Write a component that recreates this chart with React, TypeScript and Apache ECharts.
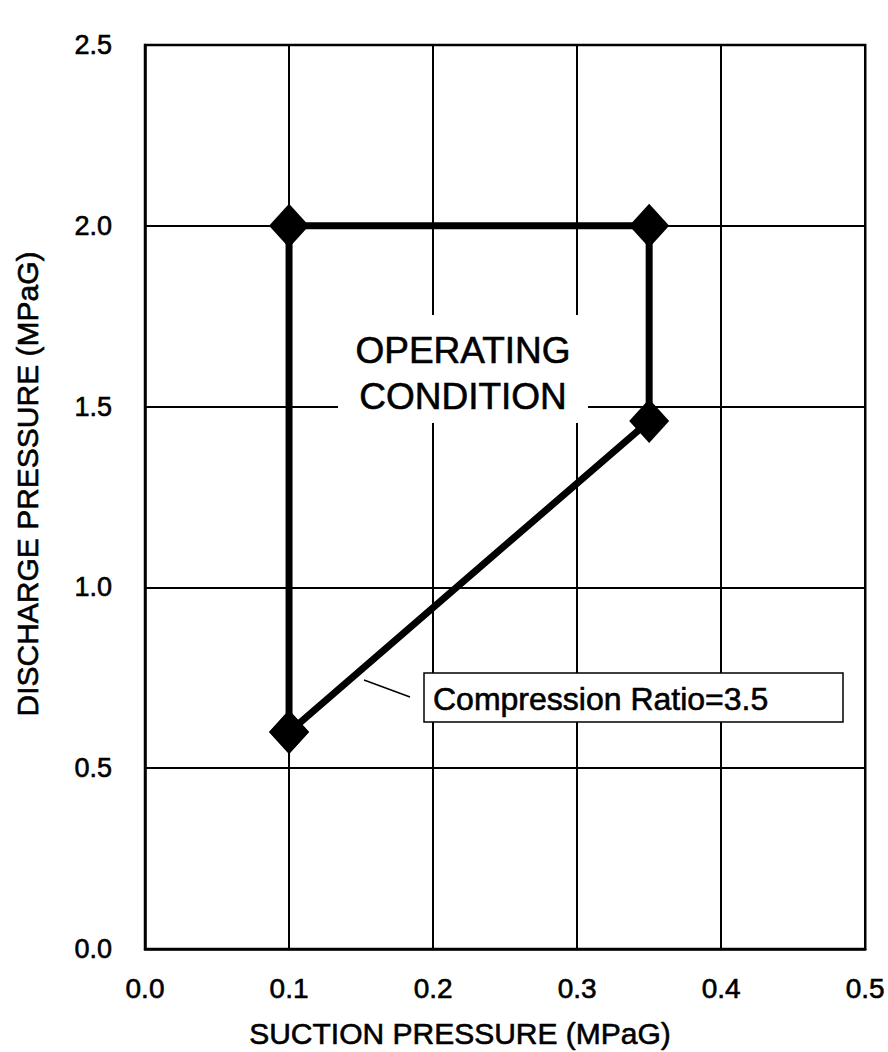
import React, { useEffect, useRef } from "react";
import * as echarts from "echarts";

const xTicks = [0, 0.1, 0.2, 0.3, 0.4, 0.5];
const yTicks = [0, 0.5, 1.0, 1.5, 2.0, 2.5];
const suctionPressure = [0.1, 0.1, 0.35, 0.35, 0.1];
const dischargePressure = [0.6, 2.0, 2.0, 1.46, 0.6];
const xTitle = "SUCTION PRESSURE (MPaG)";
const yTitle = "DISCHARGE PRESSURE (MPaG)";
const regionLabel = "OPERATING\nCONDITION";
const ratioLabel = "Compression Ratio=3.5";

const FONT = "'Liberation Sans', Arial, Helvetica, sans-serif";
const BOLDEN = { stroke: "#000", lineWidth: 0.6 };

export default function App() {
  const ref = useRef<HTMLDivElement>(null);
  useEffect(() => {
    document.body.style.margin = "0";
    const chart = echarts.init(ref.current!, null, { renderer: "svg" });
    const data = suctionPressure.map((x, i) => [x, dischargePressure[i]]);
    chart.setOption({
      animation: false,
      backgroundColor: "#ffffff",
      textStyle: { fontFamily: FONT, color: "#000" },
      grid: {
        left: 145,
        right: 22,
        top: 45,
        bottom: 103,
        show: true,
        borderColor: "#000",
        borderWidth: 2.5,
        backgroundColor: "transparent",
      },
      xAxis: {
        type: "value",
        min: xTicks[0],
        max: xTicks[xTicks.length - 1],
        interval: 0.1,
        axisLine: { show: true, lineStyle: { color: "#000", width: 2.5 } },
        axisTick: { show: false },
        splitLine: { show: true, lineStyle: { color: "#000", width: 2 } },
        axisLabel: {
          color: "#000",
          fontSize: 28,
          fontFamily: FONT,
          margin: 25,
          textBorderColor: "#000",
          textBorderWidth: 0.6,
          formatter: (v: number) => v.toFixed(1),
        },
      },
      yAxis: {
        type: "value",
        min: yTicks[0],
        max: yTicks[yTicks.length - 1],
        interval: 0.5,
        axisLine: { show: true, lineStyle: { color: "#000", width: 2.5 } },
        axisTick: { show: false },
        splitLine: { show: true, lineStyle: { color: "#000", width: 2 } },
        axisLabel: {
          color: "#000",
          fontSize: 27,
          fontFamily: FONT,
          margin: 33,
          padding: [0, 0, 10, 0],
          textBorderColor: "#000",
          textBorderWidth: 0.6,
          formatter: (v: number) => v.toFixed(1),
        },
      },
      series: [
        {
          type: "line",
          data,
          symbol: "diamond",
          symbolSize: [40, 44],
          lineStyle: { color: "#000", width: 7 },
          itemStyle: { color: "#000" },
          z: 5,
        },
      ],
      graphic: [
        {
          type: "text",
          z: 10,
          x: 460,
          y: 1033,
          style: {
            text: xTitle,
            font: `30px ${FONT}`,
            fill: "#000",
            align: "center",
            verticalAlign: "middle",
            ...BOLDEN,
          },
        },
        {
          type: "text",
          z: 10,
          x: 27,
          y: 484,
          rotation: Math.PI / 2,
          style: {
            text: yTitle,
            font: `30px ${FONT}`,
            fill: "#000",
            align: "center",
            verticalAlign: "middle",
            ...BOLDEN,
          },
        },
        {
          type: "rect",
          z: 10,
          shape: { x: 338, y: 315, width: 250, height: 108 },
          style: { fill: "#fff", stroke: null },
        },
        {
          type: "text",
          z: 11,
          x: 463,
          y: 373,
          style: {
            text: regionLabel,
            font: `37px ${FONT}`,
            lineHeight: 46,
            fill: "#000",
            align: "center",
            verticalAlign: "middle",
            ...BOLDEN,
          },
        },
        {
          type: "line",
          z: 10,
          shape: { x1: 364, y1: 680, x2: 410, y2: 697 },
          style: { stroke: "#000", lineWidth: 1.5 },
        },
        {
          type: "rect",
          z: 10,
          shape: { x: 424, y: 673, width: 419, height: 49 },
          style: { fill: "#fff", stroke: "#000", lineWidth: 1.5 },
        },
        {
          type: "text",
          z: 11,
          x: 433,
          y: 699,
          style: {
            text: ratioLabel,
            font: `32px ${FONT}`,
            fill: "#000",
            align: "left",
            verticalAlign: "middle",
            ...BOLDEN,
          },
        },
      ],
    });
    return () => chart.dispose();
  }, []);
  return <div ref={ref} style={{ width: 888, height: 1052 }} />;
}
